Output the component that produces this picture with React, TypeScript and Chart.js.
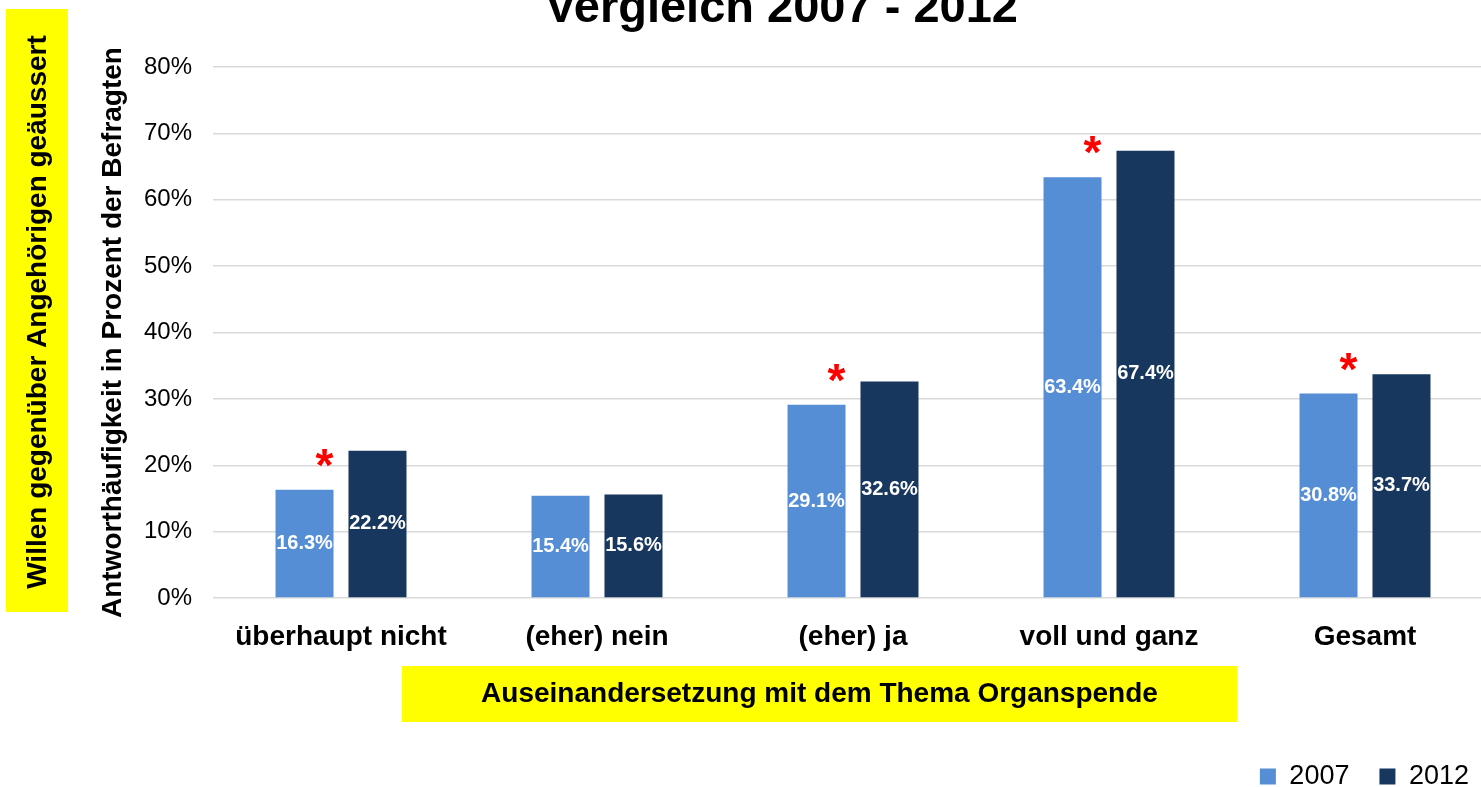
import React, { useEffect, useRef } from "react";
import { Chart, registerables } from "chart.js";

Chart.register(...registerables);

const categories = ["überhaupt nicht", "(eher) nein", "(eher) ja", "voll und ganz", "Gesamt"];
const values2007 = [16.3, 15.4, 29.1, 63.4, 30.8];
const values2012 = [22.2, 15.6, 32.6, 67.4, 33.7];
const significant = [true, false, true, true, true];
const seriesLabels = ["2007", "2012"];
const yMax = 80;
const yStep = 10;
const chartTitle = "Vergleich 2007 - 2012";
const yAxisTitle = "Antworthäufigkeit in Prozent der Befragten";
const xAxisTitle = "Auseinandersetzung mit dem Thema Organspende";
const sideTitle = "Willen gegenüber Angehörigen geäussert";

const FONT = "'Liberation Sans', Arial, Helvetica, sans-serif";
const OFFSET_Y = 20; // canvas is shifted up by this much
const CANVAS_W = 1493;
const CANVAS_H = 820;

export default function App() {
  const ref = useRef<HTMLCanvasElement>(null);

  useEffect(() => {
    if (!ref.current) return;
    Chart.defaults.font.family = FONT;

    const decor = {
      id: "decor",
      afterLayout(chart: any) {
        if (chart.legend) {
          chart.legend.left += 6;
          chart.legend.right += 6;
        }
        if (chart.titleBlock) {
          chart.titleBlock.left += 35;
          chart.titleBlock.right += 35;
        }
      },
      afterDatasetsDraw(chart: any) {
        const ctx = chart.ctx as CanvasRenderingContext2D;
        ctx.save();
        ctx.font = `bold 20px ${FONT}`;
        ctx.fillStyle = "#ffffff";
        ctx.textAlign = "center";
        ctx.textBaseline = "middle";
        chart.data.datasets.forEach((ds: any, di: number) => {
          const meta = chart.getDatasetMeta(di);
          meta.data.forEach((bar: any, i: number) => {
            const v = ds.data[i] as number;
            ctx.fillText(v.toFixed(1) + "%", bar.x, (bar.y + bar.base) / 2);
          });
        });
        ctx.font = `bold 46px ${FONT}`;
        ctx.fillStyle = "#ff0000";
        ctx.textBaseline = "alphabetic";
        const m = ctx.measureText("*");
        const meta0 = chart.getDatasetMeta(0);
        significant.forEach((s, i) => {
          if (!s) return;
          const bar = meta0.data[i] as any;
          const cx = bar.x + bar.width / 2 - 9;
          const cy = bar.y - 32;
          const base = cy + (m.actualBoundingBoxAscent - m.actualBoundingBoxDescent) / 2;
          ctx.fillText("*", cx, base);
        });
        ctx.restore();
      },
      afterDraw(chart: any) {
        const ctx = chart.ctx as CanvasRenderingContext2D;
        ctx.save();
        // left yellow box
        ctx.fillStyle = "#ffff00";
        ctx.fillRect(6, 9 + OFFSET_Y, 62, 603);
        ctx.fillStyle = "#000000";
        ctx.font = `bold 28px ${FONT}`;
        ctx.textAlign = "center";
        ctx.textBaseline = "middle";
        ctx.save();
        ctx.translate(38, 312 + OFFSET_Y);
        ctx.rotate(-Math.PI / 2);
        ctx.fillText(sideTitle, 0, 0);
        ctx.restore();
        // x axis title box
        ctx.fillStyle = "#ffff00";
        ctx.fillRect(402, 666 + OFFSET_Y, 835, 56);
        ctx.fillStyle = "#000000";
        ctx.fillText(xAxisTitle, 819.5, 694 + OFFSET_Y);
        ctx.restore();
      },
    };

    const chart = new Chart(ref.current, {
      type: "bar",
      data: {
        labels: categories,
        datasets: [
          {
            label: seriesLabels[0],
            data: values2007,
            backgroundColor: "#558ED5",
            borderWidth: 0,
            categoryPercentage: 0.57,
            barPercentage: 0.795,
          },
          {
            label: seriesLabels[1],
            data: values2012,
            backgroundColor: "#17375E",
            borderWidth: 0,
            categoryPercentage: 0.57,
            barPercentage: 0.795,
          },
        ],
      },
      options: {
        responsive: false,
        animation: false,
        layout: { padding: 0 },
        plugins: {
          title: {
            display: true,
            text: chartTitle,
            color: "#000000",
            font: { size: 47, weight: "bold", family: FONT, lineHeight: 1 },
            padding: { top: 6, bottom: 34 },
          },
          legend: {
            position: "bottom",
            align: "end",
            labels: {
              boxWidth: 16,
              boxHeight: 16,
              padding: 30,
              color: "#000000",
              font: { size: 27, family: FONT },
            },
          },
          tooltip: { enabled: false },
        },
        scales: {
          x: {
            grid: { display: false },
            border: { display: false },
            ticks: {
              color: "#000000",
              font: { size: 28, weight: "bold", family: FONT },
              padding: 14,
              maxRotation: 0,
              autoSkip: false,
            },
            afterFit: (s: any) => {
              s.height = 135;
            },
          },
          y: {
            min: 0,
            max: yMax,
            ticks: {
              stepSize: yStep,
              color: "#000000",
              font: { size: 24, family: FONT },
              padding: 21,
              callback: (v: any) => v + "%",
            },
            grid: { color: "#d9d9d9", lineWidth: 1.5, drawTicks: false },
            border: { display: false },
            title: {
              display: true,
              text: yAxisTitle,
              color: "#000000",
              font: { size: 28, weight: "bold", family: FONT },
              padding: { top: 96, bottom: 0 },
            },
            afterFit: (s: any) => {
              s.width = 213;
            },
          },
        },
      },
      plugins: [decor],
    } as any);

    return () => chart.destroy();
  }, []);

  return (
    <div
      style={{
        position: "fixed",
        left: 0,
        top: 0,
        width: 1481,
        height: 787,
        overflow: "hidden",
        background: "#ffffff",
      }}
    >
      <canvas
        ref={ref}
        width={CANVAS_W}
        height={CANVAS_H}
        style={{ position: "absolute", left: 0, top: -OFFSET_Y, width: CANVAS_W, height: CANVAS_H }}
      />
    </div>
  );
}
